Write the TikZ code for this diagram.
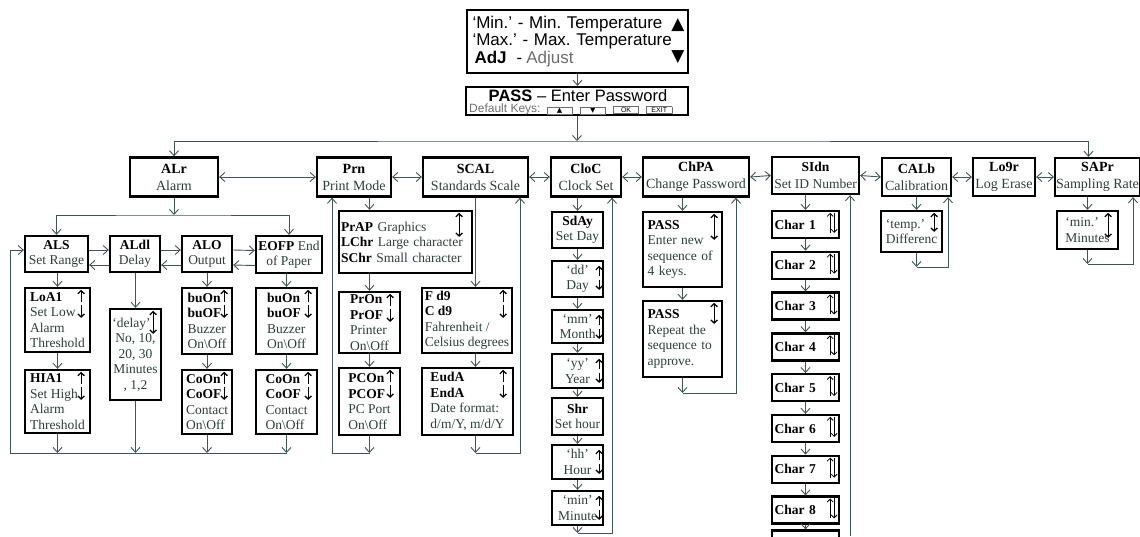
\documentclass[tikz,border=0pt]{standalone}
\usepackage{fontspec}
\setmainfont{Liberation Serif}
\newfontfamily\arialfont{Liberation Sans}
\newfontfamily\symbfont{DejaVu Sans}
\usetikzlibrary{arrows.meta,calc,positioning}
\frenchspacing

\definecolor{linegray}{RGB}{62,86,86}
\definecolor{textgray}{RGB}{44,64,60}
\definecolor{keygray}{RGB}{110,110,110}

\newcommand{\menucode}[1]{\textcolor{black}{\textbf{#1}}}
\newcommand{\keycap}[1]{{\setlength{\fboxsep}{0.8pt}\setlength{\fboxrule}{0.8pt}\fcolorbox{keygray}{white}{\makebox[23pt]{\fontsize{7}{7}\selectfont\textcolor{black}{#1}}}}}
% up and down keys beside a value
\newcommand{\updn}[2]{%
  \draw[keyarrow] ([xshift=-#2,yshift=-15pt]#1.north east) -- ([xshift=-#2,yshift=-3pt]#1.north east);
  \draw[keyarrow] ([xshift=-#2,yshift=-18pt]#1.north east) -- ([xshift=-#2,yshift=-31pt]#1.north east);}
\newcommand{\updnsmall}[2]{%
  \draw[keyarrow] ([xshift=-#2,yshift=-16pt]#1.north east) -- ([xshift=-#2,yshift=-6pt]#1.north east);
  \draw[keyarrow] ([xshift=-#2,yshift=-20pt]#1.north east) -- ([xshift=-#2,yshift=-30pt]#1.north east);}
\newcommand{\bothway}[3]{%
  \draw[keyboth] ([xshift=-#2,yshift=-3pt]#1.north east) -- ([xshift=-#2,yshift=-#3]#1.north east);}

\tikzset{
  every node/.style={
    font=\fontsize{13.5}{15.5}\selectfont,
    text=textgray
  },
  menubox/.style={
    draw=black,
    line width=2.3pt,
    fill=white,
    inner sep=1pt,
    align=center
  },
  mainbox/.style={
    menubox,
    minimum height=39pt,
    font=\fontsize{14}{17}\selectfont
  },
  subbox/.style 2 args={
    menubox,
    minimum width=#1,
    minimum height=#2
  },
  charbox/.style={
    menubox,
    minimum width=67pt,
    minimum height=27pt,
    text width=62pt,
    align=left
  },
  conn/.style={draw=linegray, line width=0.9pt, -{Straight Barb[length=5pt,width=9pt]}},
  connboth/.style={draw=linegray, line width=0.9pt, {Straight Barb[length=5pt,width=9pt]}-{Straight Barb[length=5pt,width=9pt]}},
  wire/.style={draw=linegray, line width=0.9pt},
  keyarrow/.style={draw=black, line width=1.3pt, -{Straight Barb[length=3pt,width=6.5pt]}},
  keyboth/.style={draw=black, line width=1.3pt, {Straight Barb[length=3pt,width=6.5pt]}-{Straight Barb[length=3pt,width=6.5pt]}},
  keythin/.style={draw=black, line width=0.8pt, -{Straight Barb[length=3pt,width=6pt]}}
}

\begin{document}
\begin{tikzpicture}[x=1pt,y=-1pt]
  \useasboundingbox (0,0) rectangle (1140,536);
  \clip (0,0) rectangle (1140,536);

  % display and password
  \node[menubox, minimum width=221pt, minimum height=63pt, text width=210pt, align=left, text=black,
        font=\arialfont\fontsize{17}{17.5}\selectfont] (mode) at (577.5,41.5)
    {‘Min.’ - Min. Temperature\\‘Max.’ - Max. Temperature\\\hspace*{2pt}\textbf{AdJ}\hspace{10pt}-\hspace{4pt}\textcolor{keygray}{Adjust}};
  \node[inner sep=0pt, text=black, font=\symbfont\fontsize{17}{17}\selectfont] (upmark) at (678,25) {▲};
  \node[inner sep=0pt, text=black, font=\symbfont\fontsize{17}{17}\selectfont] (downmark) at (678,57) {▼};
  \node[menubox, minimum width=222pt, minimum height=28pt] (pass) at (577,101) {};
  \node[inner sep=0pt, text=black, font=\arialfont\fontsize{16.5}{16.5}\selectfont] (passtitle) at (578,95.5)
    {\textbf{PASS} – Enter Password};
  \node[anchor=west, inner sep=0pt, text=keygray, font=\arialfont\fontsize{12}{12}\selectfont] (passkeys) at (469,109.5)
    {Default Keys:\hspace{6pt}\keycap{\symbfont ▲}\hspace{7pt}\keycap{\symbfont ▼}\hspace{7pt}\keycap{OK}\hspace{7pt}\keycap{EXIT}};

  % menu row
  \node[mainbox, minimum width=88pt] (alr) at (174,177) {\menucode{ALr}\\Alarm};
  \node[mainbox, minimum width=74pt] (prn) at (354,177) {\menucode{Prn}\\Print Mode};
  \node[mainbox, minimum width=105pt] (scal) at (475.5,177) {\menucode{SCAL}\\Standards Scale};
  \node[mainbox, minimum width=70pt] (cloc) at (586,177) {\menucode{CloC}\\Clock Set};
  \node[mainbox, minimum width=106pt] (chpa) at (696,177) {\menucode{ChPA}\\Change Password};
  \node[mainbox, minimum width=87pt, minimum height=37pt, font=\fontsize{13.5}{17}\selectfont] (sidn) at (815.5,175.5) {\menucode{SIdn}\\Set ID Number};
  \node[mainbox, minimum width=69pt, minimum height=38pt] (calb) at (916.5,177) {\menucode{CALb}\\Calibration};
  \node[mainbox, minimum width=62pt, minimum height=38pt] (logr) at (1004,177) {\menucode{Lo9r}\\Log Erase};
  \node[mainbox, minimum width=81pt, minimum height=38pt] (sapr) at (1097.5,177) {\menucode{SAPr}\\Sampling Rate};

  % alarm
  \node[subbox={63pt}{36pt}] (als) at (56.5,254) {\menucode{ALS}\\Set Range};
  \node[subbox={50pt}{36pt}] (aldl) at (135,254) {\menucode{ALdl}\\Delay};
  \node[subbox={50pt}{36pt}] (alo) at (207,254) {\menucode{ALO}\\Output};
  \node[subbox={66pt}{37pt}] (eofp) at (289,254.5) {\menucode{EOFP} End\\of Paper};
  \node[subbox={65pt}{64pt}, align=left] (loa1) at (57.5,320) {\menucode{LoA1}\\Set Low\\Alarm\\Threshold};
  \node[subbox={65pt}{63pt}, align=left] (hia1) at (57.5,401.5) {\menucode{HIA1}\\Set High\\Alarm\\Threshold};
  \node[subbox={51pt}{91pt}] (delay) at (135.5,354.5) {‘delay’\hspace*{8pt}\\No, 10,\\20, 30\\Minutes\\, 1,2};
  \node[subbox={50pt}{66pt}, align=left] (buon1) at (207,321) {\menucode{buOn}\\\menucode{buOF}\\Buzzer\\On\textbackslash Off};
  \node[subbox={50pt}{64pt}, align=left] (coon1) at (207,402) {\menucode{CoOn}\\\menucode{CoOF}\\Contact\\On\textbackslash Off};
  \node[subbox={61pt}{66pt}, align=left] (buon2) at (286.5,321) {\menucode{buOn}\\\menucode{buOF}\\Buzzer\\On\textbackslash Off};
  \node[subbox={61pt}{64pt}, align=left] (coon2) at (286.5,402) {\menucode{CoOn}\\\menucode{CoOF}\\Contact\\On\textbackslash Off};

  % print mode and scale
  \node[subbox={133pt}{62pt}, align=left, text width=129pt] (prap) at (405.5,242)
    {\menucode{PrAP} Graphics\\\menucode{LChr} Large character\\\menucode{SChr} Small character};
  \node[subbox={61pt}{61pt}, align=left] (pron) at (369.5,322.5) {\menucode{PrOn}\\\menucode{PrOF}\\Printer\\On\textbackslash Off};
  \node[subbox={61pt}{67pt}, align=left] (pcon) at (369.5,401.5) {\menucode{PCOn}\\\menucode{PCOF}\\PC Port\\On\textbackslash Off};
  \node[subbox={90pt}{65pt}, align=left] (fd9) at (467,320.5) {\menucode{F d9}\\\menucode{C d9}\\Fahrenheit /\\Celsius degrees};
  \node[subbox={91pt}{67pt}, align=left] (enda) at (467.5,401.5) {\menucode{EudA}\\\menucode{EndA}\\Date format:\\d/m/Y, m/d/Y};

  % clock
  \node[subbox={51pt}{36pt}] (sday) at (577.5,230) {\menucode{SdAy}\\Set Day};
  \node[subbox={51pt}{36pt}] (dd) at (577.5,279) {‘dd’\\Day};
  \node[subbox={51pt}{33pt}] (mm) at (577.5,326.5) {‘mm’\\Month};
  \node[subbox={51pt}{34pt}] (yy) at (577.5,371) {‘yy’\\Year};
  \node[subbox={51pt}{37pt}] (shr) at (577.5,416.5) {\menucode{Shr}\\Set hour};
  \node[subbox={51pt}{34pt}] (hh) at (577.5,462) {‘hh’\\Hour};
  \node[subbox={51pt}{34pt}] (mins) at (577.5,508) {‘min’\\Minute};

  % password
  \node[subbox={79pt}{75pt}, align=left, text width=70pt] (pass1) at (682.5,249.5) {\menucode{PASS}\\Enter new\\sequence of\\4 keys.};
  \node[subbox={79pt}{76pt}, align=left, text width=70pt] (pass2) at (682.5,339) {\menucode{PASS}\\Repeat the\\sequence to\\approve.};

  % id number
  \foreach \i in {1,...,8}
    \node[charbox] (ch\i) at (805.5,{224.5+40.8*(\i-1)}) {\menucode{Char \i}};
  \node[charbox] (ch9) at (805.5,544) {};

  % calibration and sampling
  \node[subbox={61pt}{41pt}, align=left] (temp) at (911.5,231.5) {‘temp.’\\Differenc};
  \node[subbox={61pt}{38pt}, align=left] (minutes) at (1087.5,230) {‘min.’\\Minutes};

  % keys
  \updn{loa1}{10pt} \updn{hia1}{10pt}
  \updn{buon1}{9pt} \updn{coon1}{9pt}
  \updn{buon2}{10pt} \updn{coon2}{10pt}
  \updn{pron}{11pt} \updn{pcon}{11pt}
  \updn{fd9}{10pt} \updn{enda}{11pt}
  \updnsmall{dd}{5pt} \updnsmall{mm}{5pt} \updnsmall{yy}{5pt}
  \updnsmall{hh}{5pt} \updnsmall{mins}{5pt}
  \bothway{delay}{9pt}{26pt}
  \bothway{prap}{14pt}{27pt}
  \bothway{pass1}{9pt}{29pt}
  \bothway{pass2}{9pt}{24pt}
  \bothway{temp}{9pt}{22pt}
  \bothway{minutes}{11pt}{28pt}
  \foreach \i in {1,...,8}{
    \draw[keythin] ([xshift=-10pt,yshift=-23pt]ch\i.north east) -- ([xshift=-10pt,yshift=-3pt]ch\i.north east);
    \draw[keythin] ([xshift=-6pt,yshift=-3pt]ch\i.north east) -- ([xshift=-6pt,yshift=-23pt]ch\i.north east);
  }

  % top connectors
  \coordinate (topbus) at (577,141);
  \draw[conn] (mode.south) -- (mode.south |- pass.north);
  \draw[conn] (pass.south) -- (topbus);
  \draw[connboth] (alr.north) |- (topbus) -| ([xshift=-9pt]sapr.north);
  \foreach \a/\b in {alr/prn,prn/scal,scal/cloc,cloc/chpa,chpa/sidn,sidn/calb,calb/logr,logr/sapr}
    \draw[connboth] (\a.east) -- (\b.west);

  % alarm connectors
  \coordinate (alrbus) at (174,215);
  \coordinate (alrleft) at (10,453);
  \draw[conn] (alr.south) -- (alrbus);
  \draw[connboth] (als.north) |- (alrbus) -| (eofp.north);
  \foreach \a/\b in {als/aldl,aldl/alo,alo/eofp}{
    \draw[conn] ([yshift=4pt]\a.east) -- ([yshift=4pt]\b.west);
    \draw[conn] ([yshift=-11pt]\b.west) -- ([yshift=-11pt]\a.east);
  }
  \draw[conn] (als.south -| loa1) -- (loa1.north);
  \draw[conn] (loa1.south) -- (hia1.north);
  \draw[conn] (aldl.south -| delay) -- (delay.north);
  \draw[conn] (alo.south) -- (buon1.north);
  \draw[conn] (buon1.south) -- (coon1.north);
  \draw[conn] (eofp.south -| buon2) -- (buon2.north);
  \draw[conn] (buon2.south) -- (coon2.north);
  \foreach \n in {hia1,delay,coon1,coon2}
    \draw[conn] (\n.south) -- (\n.south |- alrleft);
  \draw[conn] (coon2.south |- alrleft) -- (alrleft) |- ([yshift=4pt]als.west);

  % print mode connectors
  \coordinate (prnbot) at (332,453);
  \draw[conn] (prn.south -| pron) -- (prap.north -| pron);
  \draw[conn] (prap.south -| pron) -- (pron.north);
  \draw[conn] (pron.south) -- (pcon.north);
  \draw[conn] (pcon.south) -- (pcon.south |- prnbot);
  \draw[conn] (pcon.south |- prnbot) -- (prnbot) -- (prnbot |- prn.south);

  % scale connectors
  \coordinate (scalbot) at (520,453);
  \draw[conn] (scal.south) -- (scal.south |- fd9.north);
  \draw[conn] (fd9.south -| scal.south) -- (enda.north -| scal.south);
  \draw[conn] (enda.south -| scal.south) -- (scal.south |- scalbot);
  \draw[conn] (scal.south |- scalbot) -- (scalbot) -- (scalbot |- scal.south);

  % clock connectors
  \coordinate (clocbot) at (612,533);
  \draw[conn] (cloc.south -| sday) -- (sday.north);
  \foreach \a/\b in {sday/dd,dd/mm,mm/yy,yy/shr,shr/hh,hh/mins}
    \draw[conn] (\a.south) -- (\b.north);
  \draw[conn] (mins.south) -- (mins.south |- clocbot);
  \draw[conn] (mins.south |- clocbot) -- (clocbot) -- (clocbot |- cloc.south);

  % password connectors
  \coordinate (chpabot) at (736,393);
  \draw[conn] (chpa.south -| pass1) -- (pass1.north);
  \draw[conn] (pass1.south) -- (pass2.north);
  \draw[conn] (pass2.south) -- (pass2.south |- chpabot);
  \draw[conn] (pass2.south |- chpabot) -- (chpabot) -- (chpabot |- chpa.south);

  % id number connectors
  \coordinate (sidnend) at (850,536);
  \draw[conn] (sidn.south -| ch1) -- (ch1.north);
  \foreach \i in {1,...,8}{
    \pgfmathtruncatemacro{\j}{\i+1}
    \draw[conn] (ch\i.south) -- (ch\j.north);
  }
  \draw[conn] (sidnend) -- (sidnend |- sidn.south);

  % calibration and sampling connectors
  \coordinate (calbbot) at (948,267);
  \coordinate (saprbot) at (1133,264);
  \draw[conn] (calb.south) -- (calb.south |- temp.north);
  \draw[conn] (temp.south -| calb.south) -- (calb.south |- calbbot);
  \draw[conn] (calb.south |- calbbot) -- (calbbot) -- (calbbot |- calb.south);
  \draw[conn] (minutes.north |- sapr.south) -- (minutes.north);
  \draw[conn] (minutes.south) -- (minutes.south |- saprbot);
  \draw[conn] (minutes.south |- saprbot) -- (saprbot) -- (saprbot |- sapr.south);
\end{tikzpicture}
\end{document}
